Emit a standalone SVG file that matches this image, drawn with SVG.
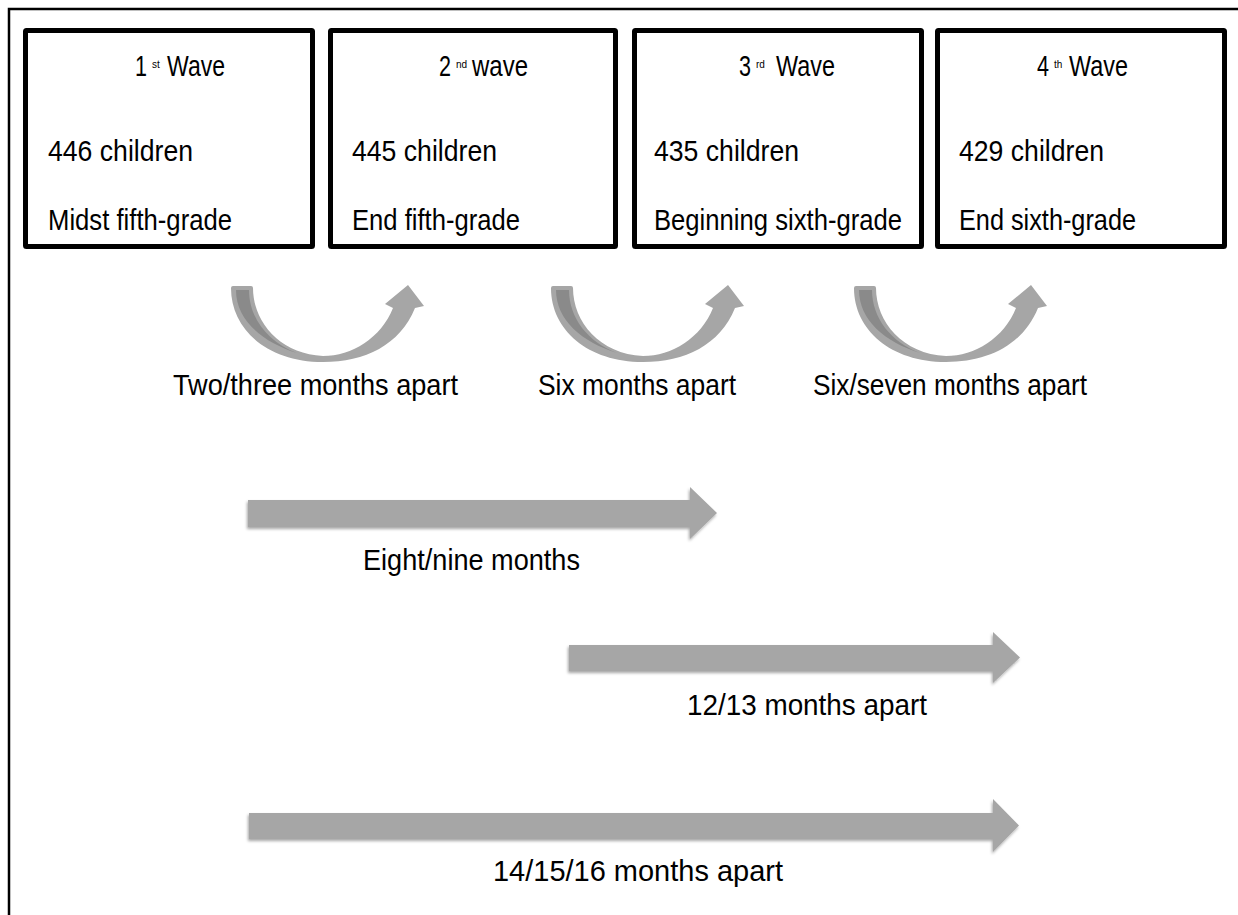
<svg xmlns="http://www.w3.org/2000/svg" xmlns:xlink="http://www.w3.org/1999/xlink" width="1238" height="915" viewBox="0 0 1238 915">
<style>
  .box { fill: #ffffff; stroke: #000000; stroke-width: 5; }
  .t { font-family: "Liberation Sans", Arial, sans-serif; font-size: 30px; fill: #000000; }
  .sup { font-size: 10px; }
  .arrow { fill: #a6a6a6; }
  .dark { fill: #8a8a8a; }
</style>
<defs>
  <filter id="sh" x="-5%" y="-30%" width="110%" height="160%">
    <feDropShadow dx="-1" dy="2" stdDeviation="1.5" flood-color="#000000" flood-opacity="0.35"/>
  </filter>
  <g id="curve">
    <path class="arrow" d="M231,288 Q231,286 233,286 L251,286 Q253,286 253,288 C253,322 280,354 323,356 C352,356 381,338 393,308 L385,304 L408,285 L424,306 L415,308 C400,345 365,362 323,362 C268,362 231,330 231,288 Z"/>
    <path class="dark" d="M236,290 L249,290 C249,318 268,342 297,353 C262,342 236,320 236,290 Z"/>
  </g>
</defs>
<rect width="1238" height="915" fill="#ffffff"/>
<path d="M9,915 L9,9 L1238,9" fill="none" stroke="#000000" stroke-width="2.5"/>

<g id="wave1">
  <rect class="box" x="25.5" y="30.5" width="287" height="216" rx="1"/>
  <text class="t" y="76"><tspan x="135" textLength="12" lengthAdjust="spacingAndGlyphs">1</tspan><tspan class="sup" x="152" y="68">st</tspan><tspan x="167" y="76" textLength="58" lengthAdjust="spacingAndGlyphs">Wave</tspan></text>
  <text class="t" x="48" y="161" textLength="145" lengthAdjust="spacingAndGlyphs">446 children</text>
  <text class="t" x="48" y="230" textLength="184" lengthAdjust="spacingAndGlyphs">Midst fifth-grade</text>
</g>
<g id="wave2">
  <rect class="box" x="330.5" y="30.5" width="285" height="216" rx="1"/>
  <text class="t" y="76"><tspan x="439" textLength="12" lengthAdjust="spacingAndGlyphs">2</tspan><tspan class="sup" x="456" y="68">nd</tspan><tspan x="472" y="76" textLength="56" lengthAdjust="spacingAndGlyphs">wave</tspan></text>
  <text class="t" x="352" y="161" textLength="145" lengthAdjust="spacingAndGlyphs">445 children</text>
  <text class="t" x="352" y="230" textLength="168" lengthAdjust="spacingAndGlyphs">End fifth-grade</text>
</g>
<g id="wave3">
  <rect class="box" x="634.5" y="30.5" width="287" height="216" rx="1"/>
  <text class="t" y="76"><tspan x="739" textLength="12" lengthAdjust="spacingAndGlyphs">3</tspan><tspan class="sup" x="756" y="68">rd</tspan><tspan x="776" y="76" textLength="59" lengthAdjust="spacingAndGlyphs">Wave</tspan></text>
  <text class="t" x="654" y="161" textLength="145" lengthAdjust="spacingAndGlyphs">435 children</text>
  <text class="t" x="654" y="230" textLength="248" lengthAdjust="spacingAndGlyphs">Beginning sixth-grade</text>
</g>
<g id="wave4">
  <rect class="box" x="937.5" y="30.5" width="287" height="216" rx="1"/>
  <text class="t" y="76"><tspan x="1037" textLength="12" lengthAdjust="spacingAndGlyphs">4</tspan><tspan class="sup" x="1054" y="68">th</tspan><tspan x="1069" y="76" textLength="59" lengthAdjust="spacingAndGlyphs">Wave</tspan></text>
  <text class="t" x="959" y="161" textLength="145" lengthAdjust="spacingAndGlyphs">429 children</text>
  <text class="t" x="959" y="230" textLength="177" lengthAdjust="spacingAndGlyphs">End sixth-grade</text>
</g>

<g id="connectors">
  <use xlink:href="#curve"/>
  <use xlink:href="#curve" transform="translate(320,0)"/>
  <use xlink:href="#curve" transform="translate(623,0)"/>
  <text class="t" x="173" y="395" textLength="285" lengthAdjust="spacingAndGlyphs">Two/three months apart</text>
  <text class="t" x="538" y="395" textLength="198" lengthAdjust="spacingAndGlyphs">Six months apart</text>
  <text class="t" x="813" y="395" textLength="274" lengthAdjust="spacingAndGlyphs">Six/seven months apart</text>

  <path class="arrow" filter="url(#sh)" d="M248,500 L690,500 L690,487 L717,513 L690,539 L690,527 L248,527 Z"/>
  <text class="t" x="363" y="570" textLength="217" lengthAdjust="spacingAndGlyphs">Eight/nine months</text>

  <path class="arrow" filter="url(#sh)" d="M569,645 L993,645 L993,632 L1020,657.5 L993,683 L993,671 L569,671 Z"/>
  <text class="t" x="687" y="715" textLength="240" lengthAdjust="spacingAndGlyphs">12/13 months apart</text>

  <path class="arrow" filter="url(#sh)" d="M249,813 L993,813 L993,799 L1019,825.5 L993,852 L993,839 L249,839 Z"/>
  <text class="t" x="493" y="881" textLength="290" lengthAdjust="spacingAndGlyphs">14/15/16 months apart</text>
</g>
</svg>
